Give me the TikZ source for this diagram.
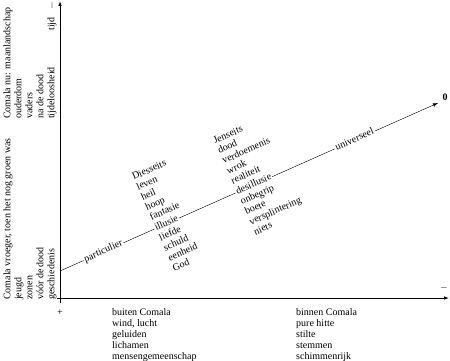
\documentclass[tikz,border=0pt]{standalone}
\usepackage{fontspec}
\setmainfont{Liberation Serif}
\usetikzlibrary{calc,arrows.meta}
\begin{document}
\begin{tikzpicture}[x=1pt,y=-1pt,
  lbl/.style={font=\fontsize{10}{11}\selectfont, inner xsep=1pt, inner ysep=0pt, align=left},
  diagtxt/.style={lbl, rotate=23.96},
  verttxt/.style={lbl, rotate=90},
  axisline/.style={line width=0.9pt},
  tip/.style={-{Latex[length=5pt,width=3.6pt]}},
]
\useasboundingbox (0,0) rectangle (450,361);
% axes
\coordinate (Ybot) at (60,303);
\coordinate (Ytop) at (60,1);
\coordinate (Xbeg) at (57,298);
\coordinate (Xend) at (449,298);
\draw[axisline,tip] (Ybot) -- (Ytop);
\draw[axisline,tip] (Xbeg) -- (Xend);
\node[lbl] (plus) at (60,313) {+};
\node[lbl] (minX) at (444,288) {$-$};
\node[verttxt] (minY) at (52,6) {$-$};
\node[verttxt] (tijd) at (52,24) {tijd};
% diagonal
\coordinate (A) at (60,271);
\coordinate (B) at (438,103);
\node[diagtxt] (part) at ($(A)!0.115!(B)$) {particulier\strut};
\node[diagtxt] (ill) at ($(A)!0.282!(B)$) {illusie\strut};
\node[diagtxt] (des) at ($(A)!0.513!(B)$) {desillusie\strut};
\node[diagtxt] (uni) at ($(A)!0.780!(B)$) {universeel\strut};
\draw (A) -- (part.west);
\draw (part.east) -- (ill.west);
\draw (ill.east) -- (des.west);
\draw (des.east) -- (uni.west);
\draw[tip] (uni.east) -- (B);
\node[lbl, font=\fontsize{10}{11}\selectfont\bfseries] (zero) at (445,97) {0};
% word blocks on diagonal
\node[diagtxt, anchor=south west] (lup) at (ill.north west) {Diesseits\strut\\leven\strut\\heil\strut\\hoop\strut\\fantasie\strut};
\node[diagtxt, anchor=north west] (ldn) at (ill.south west) {liefde\strut\\schuld\strut\\eenheid\strut\\God\strut};
\node[diagtxt, anchor=south west] (rup) at (des.north west) {Jenseits\strut\\dood\strut\\verdoemenis\strut\\wrok\strut\\realiteit\strut};
\node[diagtxt, anchor=north west] (rdn) at (des.south west) {onbegrip\strut\\boete\strut\\versplintering\strut\\niets\strut};
% vertical blocks
\node[verttxt, anchor=north west] (past) at (2.5,301) {Comala vroeger, toen het nog groen was\strut\\jeugd\strut\\zonen\strut\\vóór de dood\strut\\geschiedenis\strut};
\node[verttxt, anchor=north west] (now) at (2.5,120) {Comala nu: maanlandschap\strut\\ouderdom\strut\\vaders\strut\\na de dood\strut\\tijdeloosheid\strut};
% bottom lists
\node[lbl, anchor=north west] (outside) at (111,308) {buiten Comala\strut\\wind, lucht\strut\\geluiden\strut\\lichamen\strut\\mensengemeenschap\strut};
\node[lbl, anchor=north west] (inside) at (295,308) {binnen Comala\strut\\pure hitte\strut\\stilte\strut\\stemmen\strut\\schimmenrijk\strut};
\end{tikzpicture}
\end{document}
